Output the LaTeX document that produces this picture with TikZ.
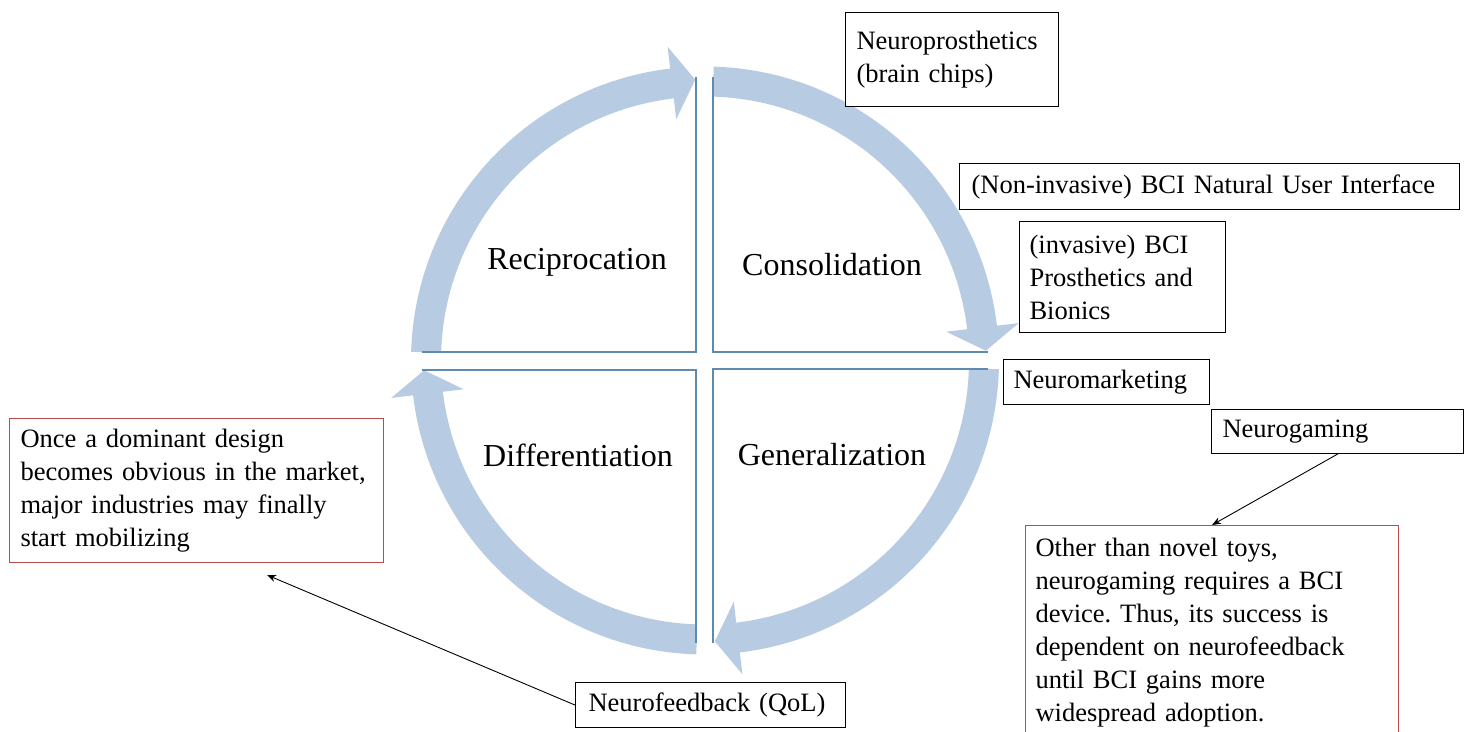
\documentclass[tikz,border=0pt]{standalone}
\usepackage{fontspec}
\setmainfont{Liberation Serif}
\usetikzlibrary{calc, arrows.meta, positioning}
\frenchspacing

\definecolor{ringblue}{RGB}{183,204,226}
\definecolor{quadline}{RGB}{95,138,175}
\definecolor{notered}{RGB}{185,75,75}

\newcommand{\boxfont}{\fontsize{26.5}{33}\selectfont}
\newcommand{\quadfont}{\fontsize{32}{38}\selectfont}

\begin{document}
\begin{tikzpicture}[>=Stealth, x=1pt, y=1pt,
    quadrant/.style={font=\quadfont},
    label box/.style={draw=black, line width=1.1pt, fill=white, font=\boxfont,
      align=left, anchor=north west, inner xsep=11pt},
    note box/.style={label box, draw=notered},
    quad line/.style={quadline, line width=2pt},
    pointer/.style={->, line width=0.9pt, >={Stealth[length=9pt,width=7pt]}}]

      \useasboundingbox (0,0) rectangle (1467,731);
      \clip (0,0) rectangle (1467,731);
      \fill[white] (0,0) rectangle (1467,731);

      % --- Centre of the cycle ---
      \coordinate (c) at (705,370.5);

      % --- Curved arrows, one per quadrant ---
      \foreach \q in {90,0,-90,-180}{
        \fill[ringblue] ($(c)+({\q+88.3}:294)$)
          arc[start angle=\q+88.3, end angle=\q+6.8, radius=294]
          -- ($(c)+({\q+6.8}:316)$) -- ($(c)+({\q+2}:281)$) -- ($(c)+({\q+6.8}:243)$)
          -- ($(c)+({\q+6.8}:264)$)
          arc[start angle=\q+6.8, end angle=\q+88.3, radius=264] -- cycle;
      }

      % --- Quadrant borders ---
      \draw[quad line] (696,654) -- (696,379) -- (422,379);
      \draw[quad line] (713,654) -- (713,379) -- (988,379);
      \draw[quad line] (422,361) -- (696,361) -- (696,88);
      \draw[quad line] (988,362) -- (713,362) -- (713,88);

      % --- Phase names ---
      \node[quadrant] (recip) at (577,469) {Reciprocation};
      \node[quadrant] (consol) at (832,466) {Consolidation};
      \node[quadrant] (diff) at (578,276) {Differentiation};
      \node[quadrant] (gen) at (832,276) {Generalization};

      % --- Application boxes ---
      \node[label box, text width=191pt, minimum height=94pt] (prosth) at (845,719)
        {Neuroprosthetics\\(brain chips)};
      \node[label box, inner xsep=12pt, text width=476pt, minimum height=46pt] (nui) at (959,568)
        {(Non-invasive) BCI Natural User Interface};
      \node[label box, inner xsep=10pt, text width=186pt, minimum height=111pt] (inv) at (1019,510)
        {(invasive) BCI\\Prosthetics and\\Bionics};
      \node[label box, inner xsep=10pt, text width=186pt, minimum height=45pt] (mkt) at (1003,372)
        {Neuromarketing};
      \node[label box, text width=230pt, minimum height=44pt] (gaming) at (1211,322)
        {Neurogaming};
      \node[label box, inner xsep=13pt, text width=244pt, minimum height=45pt] (nf) at (575,49)
        {Neurofeedback (QoL)};

      % --- Notes ---
      \node[note box, text width=352pt, minimum height=144pt] (dominant) at (9,313)
        {Once a dominant design\\becomes obvious in the market,\\major industries may finally\\start mobilizing};
      \node[note box, inner xsep=10pt, inner ysep=13pt, text width=353pt] (toys) at (1025,206)
        {Other than novel toys,\\neurogaming requires a BCI\\device. Thus, its success is\\dependent on neurofeedback\\until BCI gains more\\widespread adoption.};

      % --- Pointers ---
      \coordinate (domtip) at (267,156);
      \draw[pointer] (nf.west) -- (domtip);
      \draw[pointer] (gaming.south) -- (toys.north);
\end{tikzpicture}
\end{document}
